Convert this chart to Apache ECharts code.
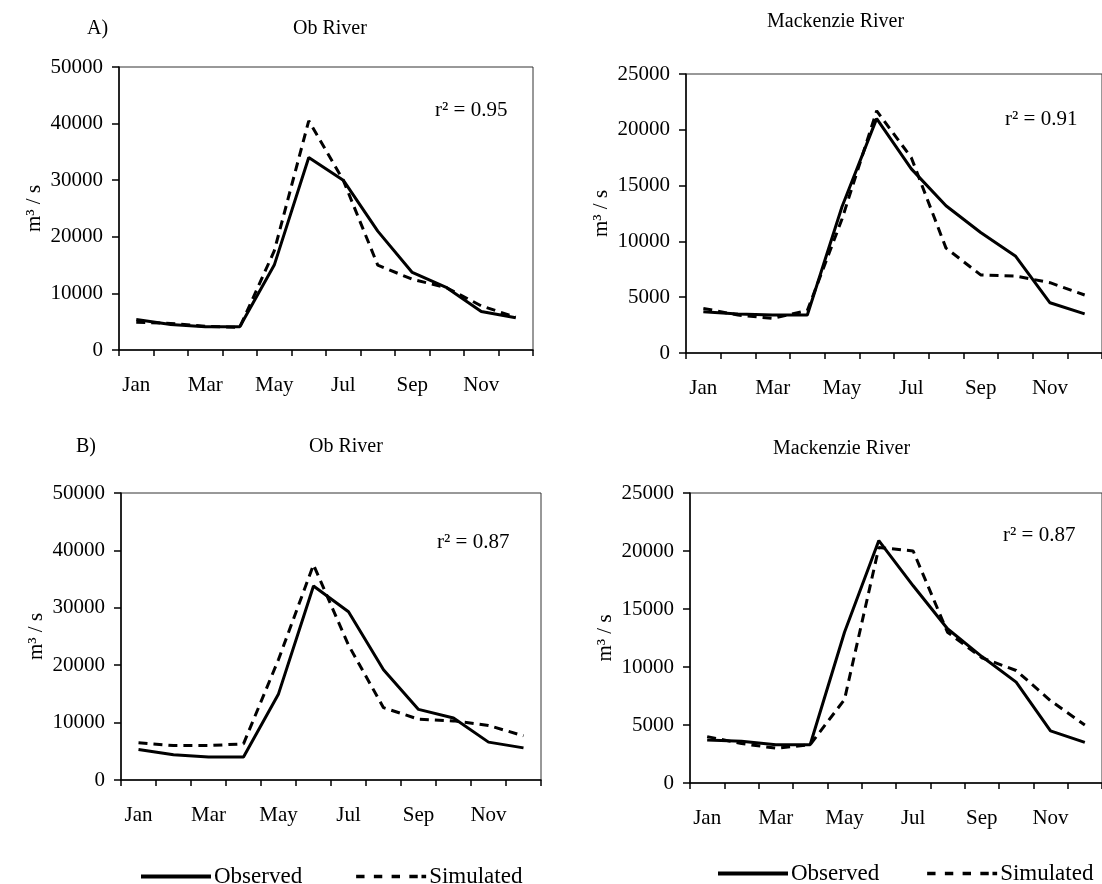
<!DOCTYPE html>
<html>
<head>
<meta charset="utf-8">
<script src="https://cdn.jsdelivr.net/npm/echarts@6/dist/echarts.min.js"></script>
<style>
html,body{margin:0;padding:0;background:#fff;}
#chart{width:1102px;height:884px;}
</style>
</head>
<body>
<div id="chart"></div>
<script>
const months = ['Jan','Feb','Mar','Apr','May','Jun','Jul','Aug','Sep','Oct','Nov','Dec'];
const obObservedA = [5400, 4500, 4100, 4100, 15000, 34000, 30000, 21000, 13700, 11000, 6800, 5700];
const obSimulatedA = [4900, 4700, 4200, 4000, 17500, 40500, 30000, 15000, 12500, 11000, 7800, 5800];
const macObservedA = [3700, 3500, 3400, 3400, 13100, 21000, 16500, 13200, 10800, 8700, 4500, 3500];
const macSimulatedA = [4000, 3400, 3100, 3800, 12000, 21700, 17500, 9400, 7000, 6900, 6300, 5200];
const obObservedB = [5300, 4400, 4000, 4000, 15000, 33800, 29300, 19200, 12300, 10800, 6600, 5600];
const obSimulatedB = [6500, 6000, 6000, 6300, 21000, 37500, 23500, 12600, 10600, 10300, 9500, 7700];
const macObservedB = [3700, 3600, 3300, 3300, 13000, 20900, 17000, 13300, 10900, 8700, 4500, 3500];
const macSimulatedB = [4000, 3400, 3000, 3300, 7200, 20300, 20000, 13000, 10800, 9700, 7100, 5000];
const obTicks = {min: 0, max: 50000, interval: 10000};
const macTicks = {min: 0, max: 25000, interval: 5000};

const FONT = 'Liberation Serif';
const grids = [
  {left: 119, top: 67, width: 414, height: 283},
  {left: 686, top: 74, width: 423, height: 279},
  {left: 121, top: 493, width: 420, height: 287},
  {left: 690, top: 493, width: 423, height: 290}
];
const gridOpts = grids.map(g => Object.assign({show: true, borderColor: '#333', borderWidth: 1, backgroundColor: 'transparent'}, g));

function xAxis(i) {
  return {
    type: 'category', gridIndex: i, data: months, boundaryGap: true,
    axisLine: {lineStyle: {color: '#000', width: 1.5}},
    axisTick: {show: true, interval: 0, length: 6, inside: false, lineStyle: {color: '#000', width: 1.5}},
    axisLabel: {interval: 1, color: '#000', fontFamily: FONT, fontSize: 21, margin: 25}
  };
}
function yAxis(i, t) {
  return {
    type: 'value', gridIndex: i, min: t.min, max: t.max, interval: t.interval,
    name: 'm³ / s', nameLocation: 'middle', nameRotate: 90, nameGap: 74,
    nameTextStyle: {color: '#000', fontFamily: FONT, fontSize: 21},
    splitLine: {show: false},
    axisLine: {show: true, lineStyle: {color: '#000', width: 1.5}},
    axisTick: {show: true, length: 7, lineStyle: {color: '#000', width: 1.5}},
    axisLabel: {color: '#000', fontFamily: FONT, fontSize: 21, margin: 16, formatter: v => String(v)}
  };
}
function obs(i, data) {
  return {name: 'Observed', type: 'line', xAxisIndex: i, yAxisIndex: i, data: data,
    symbol: 'none', lineStyle: {color: '#000', width: 3, type: 'solid'}, itemStyle: {color: '#000'}, z: 3};
}
function sim(i, data) {
  return {name: 'Simulated', type: 'line', xAxisIndex: i, yAxisIndex: i, data: data,
    symbol: 'none', lineStyle: {color: '#000', width: 3, type: [9, 6]}, itemStyle: {color: '#000'}, z: 2};
}
function txt(text, left, top, size) {
  return {text: text, left: left, top: top, textStyle: {fontFamily: FONT, fontSize: size, fontWeight: 'normal', color: '#000'}};
}
const dashIcon = 'path://M0,0h9v4h-9z M19,0h9v4h-9z M38,0h9v4h-9z M57,0h9v4h-9z M70,0h5v4h-5z';
function legend(left, top, gap) {
  return {
    left: left, top: top, itemWidth: 70, itemHeight: 4, itemGap: gap,
    data: [{name: 'Observed', icon: 'rect'}, {name: 'Simulated', icon: dashIcon}],
    textStyle: {fontFamily: FONT, fontSize: 23, color: '#000', padding: [0, 0, 0, -2]},
    itemStyle: {color: '#000', borderWidth: 0}
  };
}

const option = {
  animation: false,
  backgroundColor: '#fff',
  title: [
    txt('A)', 82, 14, 20),
    txt('Ob River', 288, 14, 20),
    txt('Mackenzie River', 762, 7, 20),
    txt('r² = 0.95', 430, 95, 21),
    txt('r² = 0.91', 1000, 104, 21),
    txt('B)', 71, 432, 20),
    txt('Ob River', 304, 432, 20),
    txt('Mackenzie River', 768, 434, 20),
    txt('r² = 0.87', 432, 527, 21),
    txt('r² = 0.87', 998, 520, 21)
  ],
  legend: [legend(136, 860, 54), legend(713, 857, 48)],
  grid: gridOpts,
  xAxis: [xAxis(0), xAxis(1), xAxis(2), xAxis(3)],
  yAxis: [yAxis(0, obTicks), yAxis(1, macTicks), yAxis(2, obTicks), yAxis(3, macTicks)],
  series: [
    obs(0, obObservedA), sim(0, obSimulatedA),
    obs(1, macObservedA), sim(1, macSimulatedA),
    obs(2, obObservedB), sim(2, obSimulatedB),
    obs(3, macObservedB), sim(3, macSimulatedB)
  ]
};
const chart = echarts.init(document.getElementById('chart'));
chart.setOption(option);
</script>
</body>
</html>
